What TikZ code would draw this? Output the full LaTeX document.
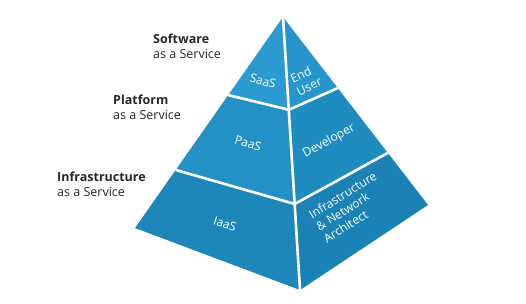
\documentclass[tikz,border=0pt]{standalone}
\usepackage{fontspec}
\setmainfont{Open Sans}
\usetikzlibrary{calc}
\begin{document}
\begin{tikzpicture}[x=1pt,y=-1pt,
  gap/.style={draw=white,line width=2.6pt},
  lbl/.style={text=white,font=\fontsize{12}{14}\selectfont,align=left,inner sep=0pt},
  side/.style={text=black!85,font=\fontsize{12.5}{15}\selectfont,align=left,anchor=north west,inner sep=0pt}]
\useasboundingbox (0,0) rectangle (526,304);
\coordinate (A) at (283,17);
\coordinate (L) at (135,228);
\coordinate (B) at (300,290);
\coordinate (R) at (428,205);
\coordinate (C1) at ($(A)!0.34!(B)$);
\coordinate (C2) at ($(A)!0.685!(B)$);
\coordinate (L1) at ($(A)!0.37!(L)$);
\coordinate (L2) at ($(A)!0.725!(L)$);
\coordinate (R1) at ($(A)!0.378!(R)$);
\coordinate (R2) at ($(A)!0.723!(R)$);
\fill[color={rgb,255:red,42;green,154;blue,208}] (A) -- (L1) -- (C1) -- cycle;
\fill[color={rgb,255:red,35;green,145;blue,198}] (L1) -- (L2) -- (C2) -- (C1) -- cycle;
\fill[color={rgb,255:red,29;green,135;blue,186}] (L2) -- (L) -- (B) -- (C2) -- cycle;
\fill[color={rgb,255:red,37;green,149;blue,203}] (A) -- (C1) -- (R1) -- cycle;
\fill[color={rgb,255:red,31;green,140;blue,192}] (C1) -- (C2) -- (R2) -- (R1) -- cycle;
\fill[color={rgb,255:red,26;green,130;blue,180}] (C2) -- (B) -- (R) -- (R2) -- cycle;
\draw[gap] (A) -- (B);
\draw[gap] (L1) -- (C1) -- (R1);
\draw[gap] (L2) -- (C2) -- (R2);
\node[lbl,rotate=-16] (saas) at (263,81) {SaaS};
\node[lbl,rotate=26] (enduser) at (306,80) {End\\User};
\node[lbl,rotate=-17] (paas) at (248,143) {PaaS};
\node[lbl,rotate=29] (dev) at (329,141) {Developer};
\node[lbl,rotate=-18] (iaas) at (225,224) {IaaS};
\node[lbl,rotate=32] (infra) at (350,207) {Infrastructure\\\& Network\\Architect};
\node[side] (sw) at (153,34) {\textbf{Software}\\as a Service};
\node[side] (pf) at (113,95) {\textbf{Platform}\\as a Service};
\node[side] (is) at (57,172) {\textbf{Infrastructure}\\as a Service};
\end{tikzpicture}
\end{document}
